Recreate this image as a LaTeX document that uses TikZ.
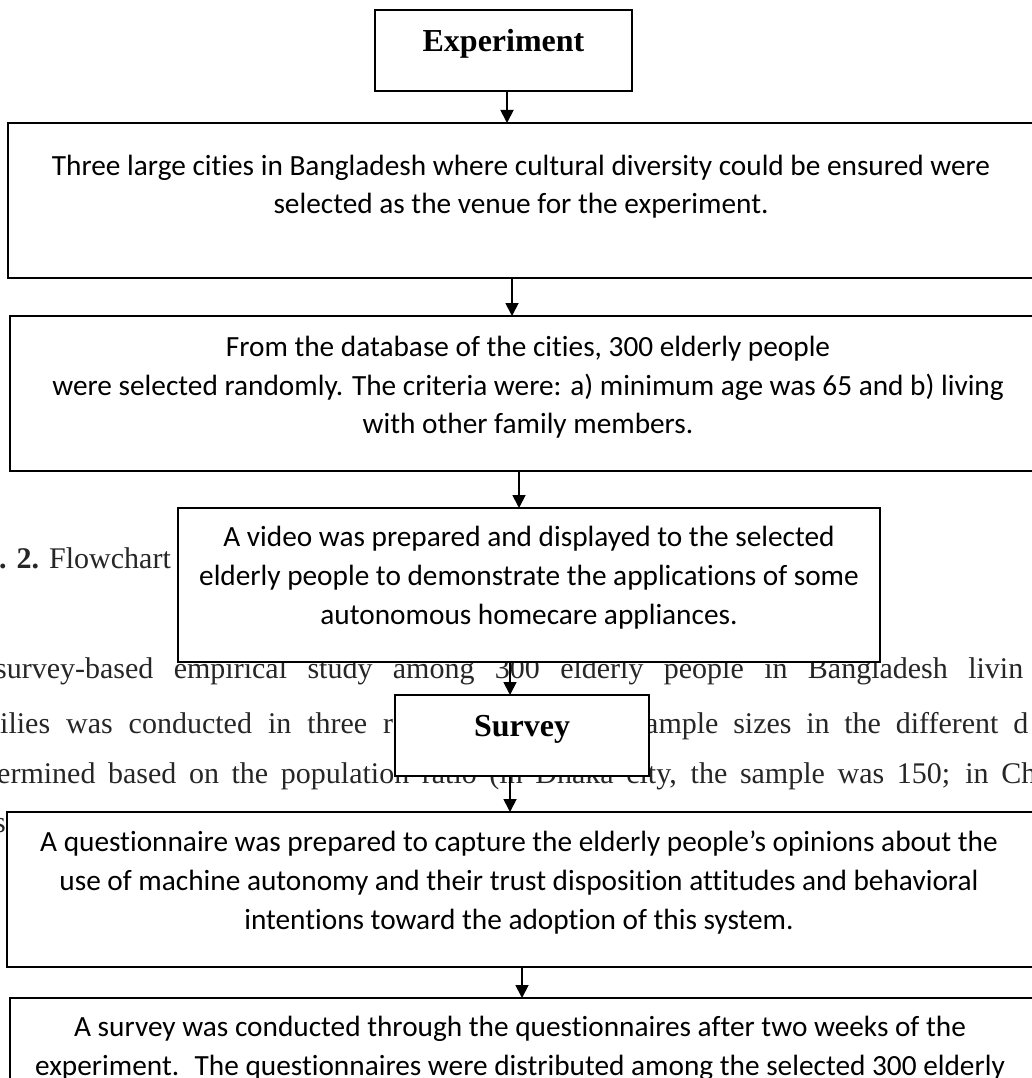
\documentclass[tikz,border=0pt]{standalone}
\usepackage{fontspec}
\setmainfont{Liberation Serif}
\newfontfamily\calibri[Ligatures=NoCommon]{Carlito}
\usetikzlibrary{arrows.meta}

\tikzset{
  flowbox/.style={draw, line width=1.8pt, fill=white, inner sep=0pt, outer sep=0pt, anchor=north west},
  boxtext/.style={font=\calibri\fontsize{29.3}{38.8}\selectfont, align=center, inner sep=0pt, anchor=north},
  headtext/.style={font=\fontsize{32}{38}\selectfont\bfseries, inner sep=0pt, anchor=base},
  bodytext/.style={font=\fontsize{30}{36}\selectfont, text=black!85, inner sep=0pt, anchor=base west},
  flowarrow/.style={line width=1.8pt, -{Triangle[width=13pt,length=13pt]}},
}

\begin{document}
\begin{tikzpicture}[x=1pt,y=-1pt]

    % --- Frame ---
    \useasboundingbox (0,0) rectangle (1032,1078);
    \clip (0,0) rectangle (1032,1078);

    % --- Page text behind the chart ---
    \node[bodytext] (capline) at (-1,568) {\textbf{. 2.} Flowchart};
    \node[bodytext] (bodyA) at (-5,678) {\makebox[1028pt][s]{survey-based empirical study among 300 elderly people in Bangladesh livin}};
    \node[bodytext] (bodyB) at (0,733) {\makebox[393pt][s]{ilies was conducted in three r}};
    \node[bodytext] (bodyC) at (645,733) {\makebox[383pt][s]{ample sizes in the different d}};
    \node[bodytext] (bodyD) at (-3,783) {\makebox[1039pt][s]{ermined based on the population ratio (in Dhaka city, the sample was 150; in Ch}};
    \node[bodytext] (bodyE) at (-6,832) {s};

    % --- Boxes ---
    \node[flowbox, minimum width=257pt, minimum height=81pt] (expbox) at (375,10) {};
    \node[flowbox, minimum width=1028pt, minimum height=155pt] (citiesbox) at (8,123) {};
    \node[flowbox, minimum width=1030pt, minimum height=155pt] (databox) at (10,316) {};
    \node[flowbox, minimum width=702pt, minimum height=154pt] (videobox) at (178,508) {};
    \node[flowbox, minimum width=254pt, minimum height=81pt] (surveybox) at (395,695) {};
    \node[flowbox, minimum width=1033pt, minimum height=155pt] (questbox) at (7,812) {};
    \node[flowbox, minimum width=1030pt, minimum height=150pt] (conductbox) at (10,998) {};

    % --- Box texts ---
    \node[headtext] (exptext) at (503.5,52) {Experiment};
    \node[boxtext] (citiestext) at (521,147.8) {\strut Three large cities in Bangladesh where cultural diversity could be ensured were\\selected as the venue for the experiment.};
    \node[boxtext] (datatext) at (528,329) {\strut From the database of the cities, 300 elderly people\\were selected randomly. The criteria were: a) minimum age was 65 and b) living\\with other family members.};
    \node[boxtext] (videotext) at (529,519.5) {\strut A video was prepared and displayed to the selected\\elderly people to demonstrate the applications of some\\autonomous homecare appliances.};
    \node[headtext] (surveytext) at (522,736) {Survey};
    \node[boxtext] (questtext) at (519,824.5) {\strut A questionnaire was prepared to capture the elderly people’s opinions about the\\use of machine autonomy and their trust disposition attitudes and behavioral\\intentions toward the adoption of this system.};
    \node[boxtext] (conducttext) at (520,1009.5) {\strut A survey was conducted through the questionnaires after two weeks of the\\experiment.~ The questionnaires were distributed among the selected 300 elderly};

    % --- Arrows ---
    \coordinate (a1) at (507,0);
    \coordinate (a2) at (512,0);
    \coordinate (a3) at (519,0);
    \coordinate (a4) at (510,0);
    \coordinate (a5) at (522,0);
    \draw[flowarrow] (expbox.south -| a1) -- (citiesbox.north -| a1);
    \draw[flowarrow] (citiesbox.south -| a2) -- (databox.north -| a2);
    \draw[flowarrow] (databox.south -| a3) -- (videobox.north -| a3);
    \draw[flowarrow] (videobox.south -| a4) -- (surveybox.north -| a4);
    \draw[flowarrow] (surveybox.south -| a4) -- (questbox.north -| a4);
    \draw[flowarrow] (questbox.south -| a5) -- (conductbox.north -| a5);

\end{tikzpicture}
\end{document}
